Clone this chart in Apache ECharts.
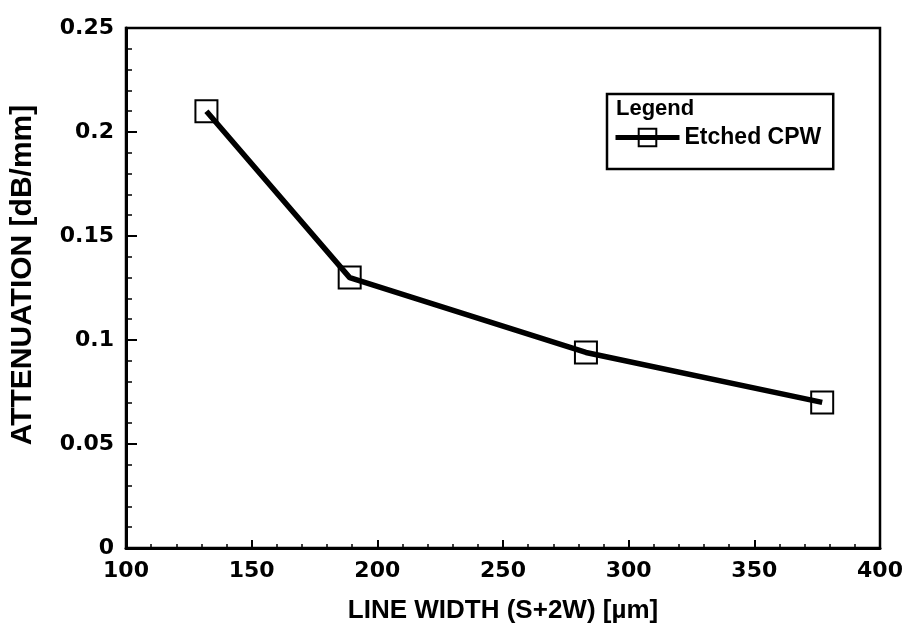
<!DOCTYPE html>
<html>
<head>
<meta charset="utf-8">
<script src="https://cdn.jsdelivr.net/npm/echarts@6/dist/echarts.min.js"></script>
<style>
  html, body { margin: 0; padding: 0; background: #fff; }
  #chart { width: 907px; height: 635px; }
</style>
</head>
<body>
<div id="chart"></div>
<script>
// Line width (S+2W) in µm and measured attenuation in dB/mm
const lineWidths = [132, 189, 283, 377];
const attenuation = [0.21, 0.13, 0.094, 0.07];
const seriesName = 'Etched CPW';
const xTicks = [100, 150, 200, 250, 300, 350, 400];
const yTicks = [0, 0.05, 0.1, 0.15, 0.2, 0.25];

const TITLE_FONT = '"Liberation Sans", Arial, sans-serif';
const TICK_FONT = '"DejaVu Sans", sans-serif';
const points = lineWidths.map((x, i) => [x, attenuation[i]]);

const chart = echarts.init(document.getElementById('chart'));
chart.setOption({
  backgroundColor: '#fff',
  animation: false,
  grid: {
    left: 124, right: 27, top: 28, bottom: 87,
    show: true, borderColor: '#000', borderWidth: 2.5
  },
  xAxis: {
    type: 'value',
    min: xTicks[0], max: xTicks[xTicks.length - 1], interval: 50,
    name: 'LINE WIDTH (S+2W) [µm]',
    nameLocation: 'middle', nameGap: 50,
    nameTextStyle: { fontFamily: TITLE_FONT, fontWeight: 'bold', fontSize: 26, color: '#000' },
    axisLine: { lineStyle: { color: '#000', width: 3 } },
    axisTick: { inside: true, length: 8, lineStyle: { color: '#000', width: 2 } },
    minorTick: { show: true, splitNumber: 5, length: 4, lineStyle: { color: '#000', width: 1.5 } },
    splitLine: { show: false },
    axisLabel: { fontFamily: TICK_FONT, fontWeight: 'bold', fontSize: 22, color: '#000', margin: 12 }
  },
  yAxis: {
    type: 'value',
    min: yTicks[0], max: yTicks[yTicks.length - 1], interval: 0.05,
    name: 'ATTENUATION [dB/mm]',
    nameLocation: 'middle', nameGap: 88, nameRotate: 90,
    nameTextStyle: { fontFamily: TITLE_FONT, fontWeight: 'bold', fontSize: 30, color: '#000', padding: [0, 0, 0, 26] },
    axisLine: { lineStyle: { color: '#000', width: 3 } },
    axisTick: { inside: true, length: 11, lineStyle: { color: '#000', width: 2 } },
    minorTick: { show: true, splitNumber: 5, length: 6, lineStyle: { color: '#000', width: 1.5 } },
    splitLine: { show: false },
    axisLabel: {
      fontFamily: TICK_FONT, fontWeight: 'bold', fontSize: 22, color: '#000', margin: 12,
      formatter: v => String(+v.toFixed(2))
    }
  },
  legend: {
    left: 607, top: 94,
    orient: 'vertical',
    padding: [32, 12, 20, 6],
    borderColor: '#000', borderWidth: 2.5,
    itemWidth: 64, itemHeight: 22, itemGap: 4,
    lineStyle: { width: 5, color: '#000' },
    textStyle: { fontFamily: TITLE_FONT, fontWeight: 'bold', fontSize: 23, color: '#000' },
    data: [seriesName]
  },
  graphic: [{
    type: 'text', left: 616, top: 98,
    style: { text: 'Legend', font: 'bold 22px "Liberation Sans", Arial, sans-serif', fill: '#000' }
  }],
  series: [{
    name: seriesName,
    type: 'line',
    data: points,
    symbol: 'rect',
    symbolSize: 22,
    itemStyle: { color: 'rgba(255,255,255,0)', borderColor: '#000', borderWidth: 2 },
    lineStyle: { color: '#000', width: 5.5 },
    z: 3
  }]
});
</script>
</body>
</html>
